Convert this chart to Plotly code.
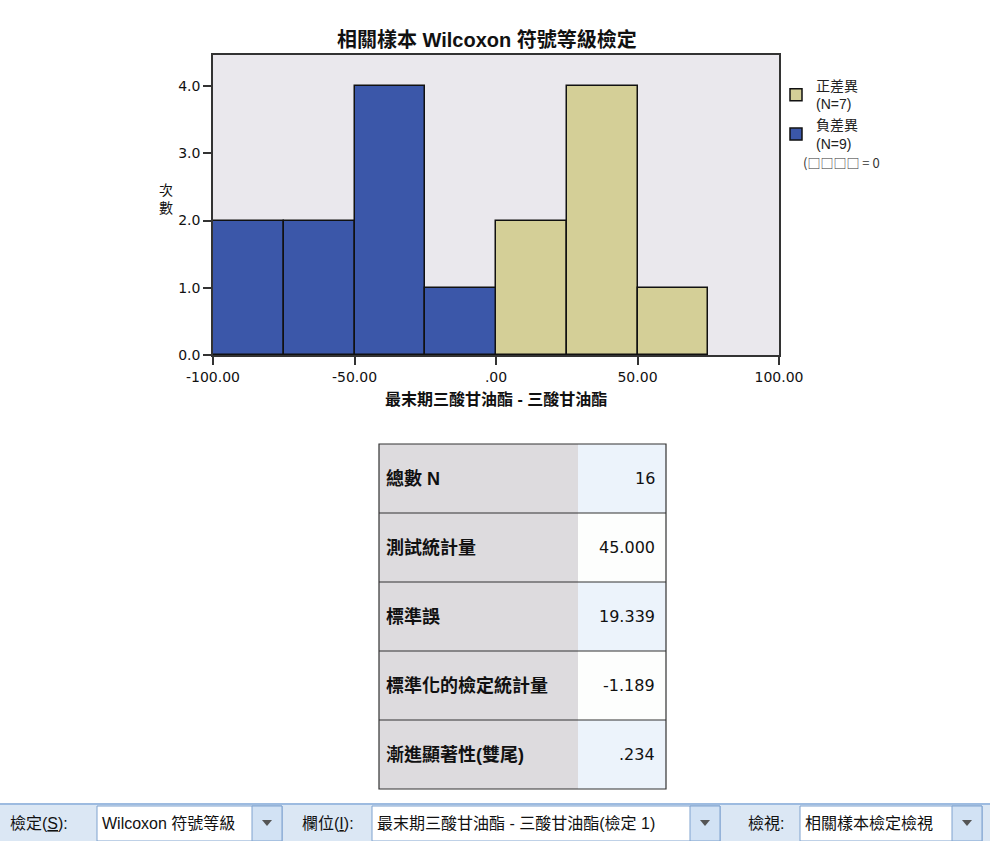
import plotly.graph_objects as go

# ---- data ----
bin_centers_neg = [-87.5, -62.5, -37.5, -12.5]
counts_neg = [2, 2, 4, 1]
bin_centers_pos = [12.5, 37.5, 62.5]
counts_pos = [2, 4, 1]
bin_width = 25
legend_pos = "正差異<br>(N=7)"
legend_neg = "負差異<br>(N=9)"
legend_tie = "(\u25a1\u25a1\u25a1\u25a1 = 0"
x_tickvals = [-100, -50, 0, 50, 100]
x_ticktext = ["-100.00", "-50.00", ".00", "50.00", "100.00"]
y_tickvals = [0, 1, 2, 3, 4]
y_ticktext = ["0.0", "1.0", "2.0", "3.0", "4.0"]
title_text = "相關樣本 Wilcoxon 符號等級檢定"
x_title = "最末期三酸甘油酯 - 三酸甘油酯"
y_title = "次<br>數"
table_labels = ["總數 N", "測試統計量", "標準誤", "標準化的檢定統計量", "漸進顯著性(雙尾)"]
table_values = ["16", "45.000", "19.339", "-1.189", ".234"]
toolbar_labels = ["檢定(<u>S</u>):", "欄位(<u>I</u>):", "檢視:"]
toolbar_values = ["Wilcoxon 符號等級", "最末期三酸甘油酯 - 三酸甘油酯(檢定 1)", "相關樣本檢定檢視"]

W, H = 990, 841
FONT = "Liberation Sans, Arial, Noto Sans CJK TC, sans-serif"
TICKFONT = "DejaVu Sans, Liberation Sans, sans-serif"
BLUE = "#3b57a9"
TAN = "#d4cf97"
PLOTBG = "#eae8ed"


def px(x):
    return x / W


def py(y):
    return 1 - y / H


fig = go.Figure()
fig.add_trace(go.Bar(x=bin_centers_pos, y=counts_pos, width=bin_width, name=legend_pos,
                     marker=dict(color=TAN, line=dict(color="#111", width=1.5))))
fig.add_trace(go.Bar(x=bin_centers_neg, y=counts_neg, width=bin_width, name=legend_neg,
                     marker=dict(color=BLUE, line=dict(color="#111", width=1.5))))

shapes = []
annotations = []

# title and axis titles
annotations.append(dict(text="<b>" + title_text + "</b>", x=px(487), y=py(40), xref="paper", yref="paper",
                        showarrow=False, font=dict(size=20, color="#111", family=FONT),
                        xanchor="center", yanchor="middle"))
annotations.append(dict(text=y_title, x=px(166), y=py(199), xref="paper", yref="paper",
                        showarrow=False, font=dict(size=14, color="#111", family=FONT),
                        xanchor="center", yanchor="middle", align="center"))
annotations.append(dict(text="<b>" + x_title + "</b>", x=px(496), y=py(399), xref="paper", yref="paper",
                        showarrow=False, font=dict(size=16, color="#111", family=FONT),
                        xanchor="center", yanchor="middle"))
annotations.append(dict(text=legend_tie, x=px(801), y=py(162), xref="paper", yref="paper",
                        showarrow=False, font=dict(size=13, color="#333",
                                                   family="Noto Sans CJK TC, Liberation Sans, sans-serif"),
                        xanchor="left", yanchor="middle"))

# table
tx0, tx1, tx2 = 379, 578, 666
ty0, rh = 444, 69
for i, (lab, val) in enumerate(zip(table_labels, table_values)):
    y0 = ty0 + i * rh
    y1 = y0 + rh
    shapes.append(dict(type="rect", xref="paper", yref="paper", x0=px(tx0), x1=px(tx1),
                       y0=py(y1), y1=py(y0), fillcolor="#dddbde", line=dict(width=0), layer="below"))
    shapes.append(dict(type="rect", xref="paper", yref="paper", x0=px(tx1), x1=px(tx2),
                       y0=py(y1), y1=py(y0),
                       fillcolor="#ecf3fb" if i % 2 == 0 else "#fdfefd", line=dict(width=0), layer="below"))
    annotations.append(dict(text="<b>" + lab + "</b>", x=px(tx0 + 5), y=py(y0 + rh / 2), xref="paper", yref="paper",
                            showarrow=False, font=dict(size=18, color="#111", family=FONT),
                            xanchor="left", yanchor="middle"))
    annotations.append(dict(text=val, x=px(tx2 - 9), y=py(y0 + rh / 2), xref="paper", yref="paper",
                            showarrow=False, font=dict(size=16, color="#111", family=TICKFONT),
                            xanchor="right", yanchor="middle"))
    if i > 0:
        shapes.append(dict(type="line", xref="paper", yref="paper", x0=px(tx0), x1=px(tx2),
                           y0=py(y0), y1=py(y0), line=dict(color="#333", width=1.2)))
shapes.append(dict(type="rect", xref="paper", yref="paper", x0=px(tx0), x1=px(tx2),
                   y0=py(ty0 + rh * len(table_labels)), y1=py(ty0),
                   line=dict(color="#333", width=1.2)))

# toolbar
shapes.append(dict(type="rect", xref="paper", yref="paper", x0=0, x1=1, y0=0, y1=py(804),
                   fillcolor="#dbe7f4", line=dict(width=0), layer="below"))
shapes.append(dict(type="line", xref="paper", yref="paper", x0=0, x1=1, y0=py(804), y1=py(804),
                   line=dict(color="#9dbbe0", width=2)))
label_x = [8, 300, 746]
box_x = [97, 372, 800]
box_w = [185, 348, 182]
for lab, val, lx, bx, bw in zip(toolbar_labels, toolbar_values, label_x, box_x, box_w):
    annotations.append(dict(text=lab, x=px(lx), y=py(823), xref="paper", yref="paper",
                            showarrow=False, font=dict(size=16, color="#111", family=FONT),
                            xanchor="left", yanchor="middle"))
    shapes.append(dict(type="rect", xref="paper", yref="paper", x0=px(bx), x1=px(bx + bw),
                       y0=py(841), y1=py(806), fillcolor="#ffffff", line=dict(color="#7fa2cf", width=1)))
    shapes.append(dict(type="rect", xref="paper", yref="paper", x0=px(bx + bw - 30), x1=px(bx + bw),
                       y0=py(841), y1=py(806), fillcolor="#d2e2f4", line=dict(color="#7fa2cf", width=1)))
    shapes.append(dict(type="path", xref="paper", yref="paper",
                       path="M {} {} L {} {} L {} {} Z".format(px(bx + bw - 20), py(820), px(bx + bw - 10), py(820),
                                                                 px(bx + bw - 15), py(826)),
                       fillcolor="#555", line=dict(width=0)))
    annotations.append(dict(text=val, x=px(bx + 3), y=py(823), xref="paper", yref="paper",
                            showarrow=False, font=dict(size=16, color="#111", family=FONT),
                            xanchor="left", yanchor="middle"))

fig.update_layout(
    width=W, height=H,
    margin=dict(l=0, r=0, t=0, b=0, pad=0, autoexpand=False),
    paper_bgcolor="#ffffff",
    plot_bgcolor=PLOTBG,
    bargap=0,
    showlegend=True,
    legend=dict(x=px(776), y=py(70), xanchor="left", yanchor="top", bgcolor="rgba(0,0,0,0)",
                font=dict(size=14, color="#222", family=FONT), traceorder="normal",
                itemwidth=30, tracegroupgap=6),
    xaxis=dict(domain=[px(213), px(779)], range=[-100, 100], tickvals=x_tickvals, ticktext=x_ticktext,
               automargin=False,
               showgrid=False, zeroline=False, showline=True, mirror=True, linecolor="#333", linewidth=1.5,
               ticks="outside", ticklen=8, tickcolor="#333", tickwidth=1.5,
               tickfont=dict(size=14, color="#111", family=TICKFONT)),
    yaxis=dict(domain=[py(355), py(55)], range=[0, 300 / 67.25], tickvals=y_tickvals, ticktext=y_ticktext,
               automargin=False,
               showgrid=False, zeroline=False, showline=True, mirror=True, linecolor="#333", linewidth=1.5,
               ticks="outside", ticklen=8, tickcolor="#333", tickwidth=1.5,
               tickfont=dict(size=14, color="#111", family=TICKFONT)),
    shapes=shapes,
    annotations=annotations,
)

fig.write_html(
    "out.html",
    config={"displayModeBar": False},
    post_script=(
        "document.documentElement.style.margin='0';document.documentElement.style.padding='0';"
        "document.documentElement.style.overflow='hidden';"
        "document.body.style.margin='0';document.body.style.padding='0';document.body.style.overflow='hidden';"
    ),
)
